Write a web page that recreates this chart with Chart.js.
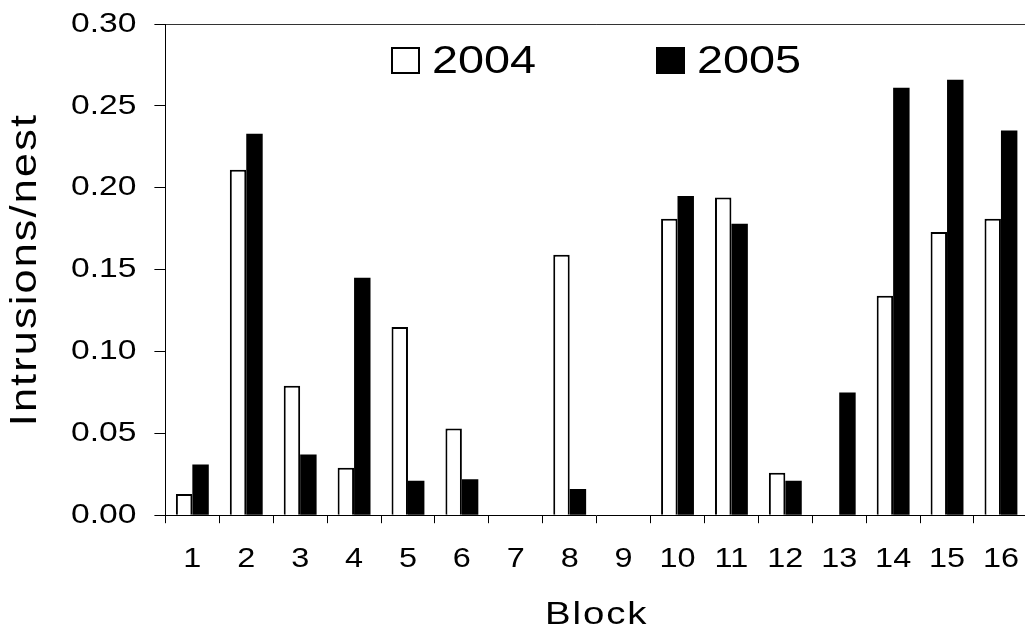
<!DOCTYPE html>
<html>
<head>
<meta charset="utf-8">
<script src="https://cdn.jsdelivr.net/npm/chart.js@4.4.1/dist/chart.umd.min.js"></script>
<style>
  html, body { margin: 0; padding: 0; background: #fff; overflow: hidden; }
  #wrap { position: relative; width: 1039px; height: 638px; }
  #legend {
    position: absolute; top: 44px; display: flex; align-items: center; gap: 138px;
    white-space: nowrap;
    font-family: "Liberation Sans", Arial, sans-serif; font-size: 39px;
    color: #000; line-height: 32px;
  }
  #legend .item { display: flex; align-items: center; }
  #legend .box { width: 29px; height: 27px; box-sizing: border-box; margin-right: 12px; }
  #legend .text { display: inline-block; transform: scaleX(1.2); transform-origin: left center; }
</style>
</head>
<body>
<div id="wrap">
  <canvas id="chart"></canvas>
  <div id="legend"></div>
</div>
<script>
// Block numbers along the x axis
const blocks = ['1', '2', '3', '4', '5', '6', '7', '8', '9', '10', '11', '12', '13', '14', '15', '16']
const years = ['2004', '2005']

// Intrusions per nest
const intrusions2004 = [0.013, 0.211, 0.079, 0.029, 0.115, 0.053, 0, 0.159, 0, 0.181, 0.194, 0.026, 0, 0.134, 0.173, 0.181]
const intrusions2005 = [0.031, 0.233, 0.037, 0.145, 0.021, 0.022, 0, 0.016, 0, 0.195, 0.178, 0.021, 0.075, 0.261, 0.266, 0.235]

const yMax = 0.30
const yStep = 0.05

const fontFamily = '"Liberation Sans", Arial, sans-serif'
const stretchX = 1.2

// The figure's lettering is wide, so stretch canvas text sideways
// (and track the bigger titles a little)
const wideText = {
  id: 'wideText',
  beforeInit(chart) {
    const ctx = chart.ctx
    const fill = ctx.fillText.bind(ctx)
    const measure = ctx.measureText.bind(ctx)
    const setSpacing = () => {
      const m = /(\d+(?:\.\d+)?)px/.exec(ctx.font)
      const size = m ? parseFloat(m[1]) : 12
      ctx.letterSpacing = size >= 30 ? (size * 0.05).toFixed(1) + 'px' : '0px'
    }
    ctx.fillText = (text, x, y) => {
      setSpacing()
      ctx.save()
      ctx.translate(x, y)
      ctx.scale(stretchX, 1)
      fill(text, 0, 0)
      ctx.restore()
    }
    ctx.measureText = text => {
      setSpacing()
      const m = measure(text)
      return {
        width: m.width * stretchX,
        actualBoundingBoxAscent: m.actualBoundingBoxAscent,
        actualBoundingBoxDescent: m.actualBoundingBoxDescent
      }
    }
  }
}

// Legend drawn as html over the plot area, built from the chart's own legend items
const htmlLegend = {
  id: 'htmlLegend',
  afterUpdate(chart) {
    const el = document.getElementById('legend')
    el.innerHTML = ''
    const items = Chart.defaults.plugins.legend.labels.generateLabels(chart)
    items.forEach(item => {
      const row = document.createElement('div')
      row.className = 'item'
      const box = document.createElement('span')
      box.className = 'box'
      box.style.background = item.fillStyle
      box.style.border = '2px solid ' + item.strokeStyle
      const label = document.createElement('span')
      label.className = 'text'
      label.textContent = item.text
      row.appendChild(box)
      row.appendChild(label)
      el.appendChild(row)
    })
    const area = chart.chartArea
    el.style.left = ((area.left + area.right) / 2 - 206) + 'px'
  }
}

const ctx = document.getElementById('chart').getContext('2d')

new Chart(ctx, {
  type: 'bar',
  data: {
    labels: blocks,
    datasets: [{
      label: years[0],
      data: intrusions2004,
      backgroundColor: '#ffffff',
      borderColor: '#000000',
      borderWidth: 2
    }, {
      label: years[1],
      data: intrusions2005,
      backgroundColor: '#000000',
      borderColor: '#000000',
      borderWidth: 0
    }]
  },
  options: {
    responsive: true,
    maintainAspectRatio: false,
    animation: false,
    categoryPercentage: 0.61,
    barPercentage: 1.0,
    layout: {
      padding: { left: 8, top: 24, right: 1, bottom: 4 }
    },
    plugins: {
      legend: { display: false },
      tooltip: { enabled: false }
    },
    scales: {
      x: {
        offset: true,
        grid: {
          offset: true,
          drawOnChartArea: false,
          tickLength: 8,
          tickColor: '#000'
        },
        border: { color: '#000', width: 1 },
        ticks: {
          color: '#000',
          padding: 20,
          font: { family: fontFamily, size: 27 },
          maxRotation: 0,
          autoSkip: false
        },
        title: {
          display: true,
          text: 'Block',
          color: '#000',
          font: { family: fontFamily, size: 32 },
          padding: { top: 0, bottom: 0 }
        }
      },
      y: {
        min: 0,
        max: yMax,
        grid: {
          drawOnChartArea: true,
          color: c => (c.tick && c.tick.value > yMax - 1e-9 ? '#333' : 'rgba(0,0,0,0)'),
          tickColor: '#000',
          tickLength: 11
        },
        border: { color: '#000', width: 1 },
        ticks: {
          stepSize: yStep,
          color: '#000',
          padding: 18,
          font: { family: fontFamily, size: 28, lineHeight: 0.4 },
          callback: v => Number(v).toFixed(2)
        },
        title: {
          display: true,
          text: 'Intrusions/nest',
          color: '#000',
          font: { family: fontFamily, size: 36, lineHeight: 1 },
          padding: { top: 0, bottom: 9 }
        }
      }
    }
  },
  plugins: [wideText, htmlLegend]
})
</script>
</body>
</html>
